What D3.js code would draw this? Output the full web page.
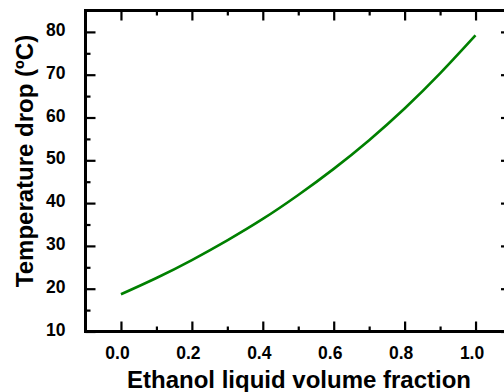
<!DOCTYPE html>
<html>
<head>
<meta charset="utf-8">
<script src="https://cdn.jsdelivr.net/npm/d3@7"></script>
<style>
  html, body { margin: 0; padding: 0; background: #fff; }
  svg { display: block; }
  text { font-family: "Liberation Sans", Arial, sans-serif; font-weight: bold; fill: #000; }
</style>
</head>
<body>
<script>
// Ethanol liquid volume fraction vs. temperature drop
const fraction = [0.0, 0.1, 0.2, 0.3, 0.4, 0.5, 0.6, 0.7, 0.8, 0.9, 1.0];
const tempDrop = [18.7, 22.5, 26.7, 31.3, 36.3, 41.9, 48.0, 54.7, 62.1, 70.3, 79.2];

const xTicks = [0.0, 0.2, 0.4, 0.6, 0.8, 1.0];
const xMinor = [0.1, 0.3, 0.5, 0.7, 0.9];
const yTicks = [10, 20, 30, 40, 50, 60, 70, 80];
const yMinor = [15, 25, 35, 45, 55, 65, 75];

const W = 504, H = 392;
const plotL = 85.5, plotR = 511, plotT = 10.5, plotB = 331.5;

const svg = d3.select("body").append("svg").attr("width", W).attr("height", H);

const x = d3.scaleLinear().domain([-0.1, 1.1]).range([plotL, plotR]);
const y = d3.scaleLinear().domain([10, 85]).range([plotB, plotT]);

const majorLen = 10, minorLen = 5;

function styleAxis(g) {
  g.select(".domain").remove();
  g.selectAll(".tick line").attr("stroke", "#000").attr("stroke-width", 2.2);
}

// bottom axis with labels
const xAxis = svg.append("g").attr("transform", `translate(0,${plotB})`)
  .call(d3.axisBottom(x).tickValues(xTicks).tickSizeInner(-majorLen).tickSizeOuter(0)
    .tickFormat(d3.format(".1f")))
  .call(styleAxis);
xAxis.selectAll(".tick text").attr("font-size", 17.5).attr("dx", -4).attr("dy", 0)
  .attr("y", 27);
svg.append("g").attr("transform", `translate(0,${plotB})`)
  .call(d3.axisBottom(x).tickValues(xMinor).tickSizeInner(-minorLen).tickSizeOuter(0).tickFormat(""))
  .call(styleAxis);

// top axis, ticks only
svg.append("g").attr("transform", `translate(0,${plotT})`)
  .call(d3.axisTop(x).tickValues(xTicks).tickSizeInner(-majorLen).tickSizeOuter(0).tickFormat(""))
  .call(styleAxis);
svg.append("g").attr("transform", `translate(0,${plotT})`)
  .call(d3.axisTop(x).tickValues(xMinor).tickSizeInner(-minorLen).tickSizeOuter(0).tickFormat(""))
  .call(styleAxis);

// left axis with labels
const yAxis = svg.append("g").attr("transform", `translate(${plotL},0)`)
  .call(d3.axisLeft(y).tickValues(yTicks).tickSizeInner(-majorLen).tickSizeOuter(0)
    .tickPadding(20).tickFormat(d3.format("d")))
  .call(styleAxis);
yAxis.selectAll(".tick text").attr("font-size", 17.5).attr("dy", "0.21em");
svg.append("g").attr("transform", `translate(${plotL},0)`)
  .call(d3.axisLeft(y).tickValues(yMinor).tickSizeInner(-minorLen).tickSizeOuter(0).tickFormat(""))
  .call(styleAxis);

// right axis, ticks only
svg.append("g").attr("transform", `translate(${plotR},0)`)
  .call(d3.axisRight(y).tickValues(yTicks).tickSizeInner(-majorLen).tickSizeOuter(0).tickFormat(""))
  .call(styleAxis);
svg.append("g").attr("transform", `translate(${plotR},0)`)
  .call(d3.axisRight(y).tickValues(yMinor).tickSizeInner(-minorLen).tickSizeOuter(0).tickFormat(""))
  .call(styleAxis);

// frame
svg.append("rect")
  .attr("x", plotL).attr("y", plotT)
  .attr("width", plotR - plotL).attr("height", plotB - plotT)
  .attr("fill", "none").attr("stroke", "#000").attr("stroke-width", 3);

// curve
const line = d3.line().x((d, i) => x(fraction[i])).y(d => y(d)).curve(d3.curveNatural);
svg.append("path")
  .datum(tempDrop)
  .attr("d", line)
  .attr("fill", "none")
  .attr("stroke", "#008000")
  .attr("stroke-width", 2.6);

// axis titles
svg.append("text")
  .attr("x", 299).attr("y", 388)
  .attr("text-anchor", "middle").attr("font-size", 24)
  .text("Ethanol liquid volume fraction");

svg.append("text")
  .attr("transform", "translate(33,161) rotate(-90)")
  .attr("text-anchor", "middle").attr("font-size", 24)
  .text("Temperature drop (ºC)");
</script>
</body>
</html>
